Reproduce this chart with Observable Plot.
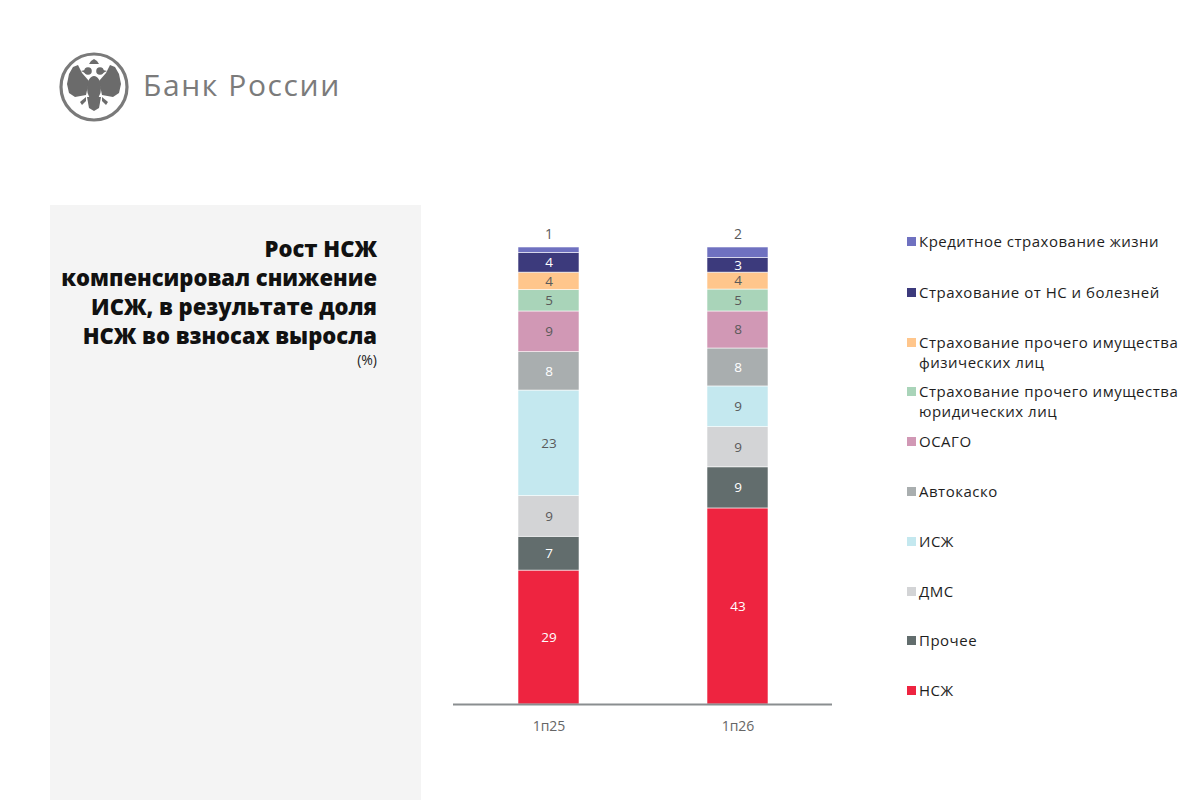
<!DOCTYPE html>
<html>
<head>
<meta charset="utf-8">
<script src="https://cdn.jsdelivr.net/npm/d3@7"></script>
<script src="https://cdn.jsdelivr.net/npm/@observablehq/plot@0.6"></script>
<style>
  html, body { margin: 0; padding: 0; background: #fff; }
  body { width: 1200px; height: 800px; position: relative; overflow: hidden; font-family: "Open Sans", "DejaVu Sans", sans-serif; }
  #panel { position: absolute; left: 50px; top: 205px; width: 371px; height: 595px; background: #f4f4f4; }
  #title { position: absolute; right: 823px; top: 234px; text-align: right; font-weight: 800; font-size: 22px; line-height: 29px; color: #111; white-space: nowrap; }
  #unit { position: absolute; right: 823px; top: 353px; font-size: 14px; line-height: 14px; font-weight: 400; color: #222; }
  #brand { position: absolute; left: 143px; top: 64px; font-size: 30px; color: #7b7b7b; font-family: "Open Sans", sans-serif; letter-spacing: 1.6px; }
  #logo { position: absolute; left: 56px; top: 50px; }
  #chart { position: absolute; left: 453px; top: 210px; }
  .leg { position: absolute; left: 907px; font-size: 15px; font-weight: 500; letter-spacing: 0.5px; line-height: 20px; color: #1e1e1e; white-space: nowrap; }
  .leg .sw { position: absolute; left: 0; top: 6px; width: 9px; height: 9px; }
  .leg .tx { position: absolute; left: 12px; top: 0; }
</style>
</head>
<body>
<div id="panel"></div>
<svg id="logo" width="76" height="74" viewBox="-38 -37 76 74">
  <circle cx="0" cy="0" r="33" fill="none" stroke="#7a7a7a" stroke-width="3.2"/>
  <g fill="#6b6b6b">
    <path d="M-5,-6 L-12,-14 L-16,-22 L-21,-20 L-25,-13 L-27,-3 L-25,6 L-19,10 L-8,8 Z"/>
    <path d="M5,-6 L12,-14 L16,-22 L21,-20 L25,-13 L27,-3 L25,6 L19,10 L8,8 Z"/>
    <circle cx="-6" cy="-16" r="3.8"/>
    <circle cx="6" cy="-16" r="3.8"/>
    <path d="M-9,-17 L-13,-16 L-9,-14 Z"/>
    <path d="M9,-17 L13,-16 L9,-14 Z"/>
    <path d="M-5,-23 L-3,-26 L0,-28 L3,-26 L5,-23 Z"/>
    <ellipse cx="0" cy="1" rx="7" ry="12"/>
    <path d="M-7,10 L7,10 L5,21 L0,24 L-5,21 Z"/>
    <path d="M-8,10 L-14,15 L-12,18 L-8,14 Z"/>
    <path d="M8,10 L14,15 L12,18 L8,14 Z"/>
  </g>
</svg>
<div id="brand">Банк России</div>
<div id="title">Рост НСЖ<br>компенсировал снижение<br>ИСЖ, в результате доля<br>НСЖ во взносах выросла</div>
<div id="unit">(%)</div>
<div id="chart"></div>
<div id="legend"></div>
<script>
// ---- data ----
const periods = ["1п25", "1п26"];
const categories = [
  "НСЖ",
  "Прочее",
  "ДМС",
  "ИСЖ",
  "Автокаско",
  "ОСАГО",
  "Страхование прочего имущества юридических лиц",
  "Страхование прочего имущества физических лиц",
  "Страхование от НС и болезней",
  "Кредитное страхование жизни"
];
const values1p25 = [29.3, 7.4, 8.9, 23.1, 8.4, 8.9, 4.7, 3.8, 4.3, 1.2];
const values1p26 = [42.9, 9.0, 8.8, 8.9, 8.3, 8.1, 4.8, 3.7, 3.2, 2.3];
const labels1p25 = [29, 7, 9, 23, 8, 9, 5, 4, 4, 1];
const labels1p26 = [43, 9, 9, 9, 8, 8, 5, 4, 3, 2];
const colors = ["#ee2440", "#626d6d", "#d3d4d6", "#c4e8ef", "#a9aeaf", "#d198b5", "#a9d4b9", "#ffc68c", "#3c3a7c", "#6f71c0"];
const darkLabelCats = ["НСЖ", "Прочее", "Автокаско", "Страхование от НС и болезней"];
const legendOrder = [
  "Кредитное страхование жизни",
  "Страхование от НС и болезней",
  "Страхование прочего имущества физических лиц",
  "Страхование прочего имущества юридических лиц",
  "ОСАГО",
  "Автокаско",
  "ИСЖ",
  "ДМС",
  "Прочее",
  "НСЖ"
];
const legendText = [
  ["Кредитное страхование жизни"],
  ["Страхование от НС и болезней"],
  ["Страхование прочего имущества", "физических лиц"],
  ["Страхование прочего имущества", "юридических лиц"],
  ["ОСАГО"],
  ["Автокаско"],
  ["ИСЖ"],
  ["ДМС"],
  ["Прочее"],
  ["НСЖ"]
];
const topCat = "Кредитное страхование жизни";

// ---- table ----
const data = [];
categories.forEach((c, i) => {
  data.push({period: periods[0], cat: c, value: values1p25[i], label: String(labels1p25[i])});
  data.push({period: periods[1], cat: c, value: values1p26[i], label: String(labels1p26[i])});
});

const stackOpts = {x: "period", y: "value", z: "cat", order: categories};

const chart = Plot.plot({
  width: 379,
  height: 540,
  marginLeft: 0,
  marginRight: 0,
  marginTop: 37,
  marginBottom: 46,
  style: {fontFamily: "'Open Sans', sans-serif", fontSize: "14px", background: "transparent", overflow: "visible"},
  x: {domain: periods, paddingInner: 0.679, paddingOuter: 0.337, label: null},
  y: {domain: [0, 100], axis: null},
  color: {domain: categories, range: colors},
  marks: [
    Plot.barY(data, {x: "period", y: "value", fill: "cat", order: categories, stroke: "#ffffff", strokeWidth: 0.7, strokeOpacity: 0.8}),
    Plot.text(data, Plot.stackY({...stackOpts, text: d => (d.cat !== topCat && darkLabelCats.includes(d.cat)) ? d.label : "", fill: "#ffffff", fontSize: 13.5, fontWeight: 500})),
    Plot.text(data, Plot.stackY({...stackOpts, text: d => (d.cat !== topCat && !darkLabelCats.includes(d.cat)) ? d.label : "", fill: "#5a5a5a", fontSize: 13.5, fontWeight: 500})),
    Plot.text(data, Plot.stackY2({...stackOpts, text: d => d.cat === topCat ? d.label : "", fill: "#5a5a5a", fontSize: 14, dy: -13})),
    Plot.ruleY([0], {stroke: "#8a8e90", strokeWidth: 2}),
    Plot.axisX({tickSize: 0, tickPadding: 17, fontSize: 14, fill: "#666", label: null})
  ]
});
document.getElementById("chart").appendChild(chart);

// ---- legend ----
const legendTops = [241, 292, 342, 391, 441, 491, 541, 591, 640, 690];
const color = chart.scale("color");
const legend = document.getElementById("legend");
legendOrder.forEach((c, i) => {
  const item = document.createElement("div");
  item.className = "leg";
  item.style.top = (legendTops[i] - 10) + "px";
  const sw = document.createElement("div");
  sw.className = "sw";
  sw.style.background = color.apply(c);
  const tx = document.createElement("div");
  tx.className = "tx";
  tx.innerHTML = legendText[i].join("<br>");
  item.appendChild(sw);
  item.appendChild(tx);
  legend.appendChild(item);
});
</script>
</body>
</html>
